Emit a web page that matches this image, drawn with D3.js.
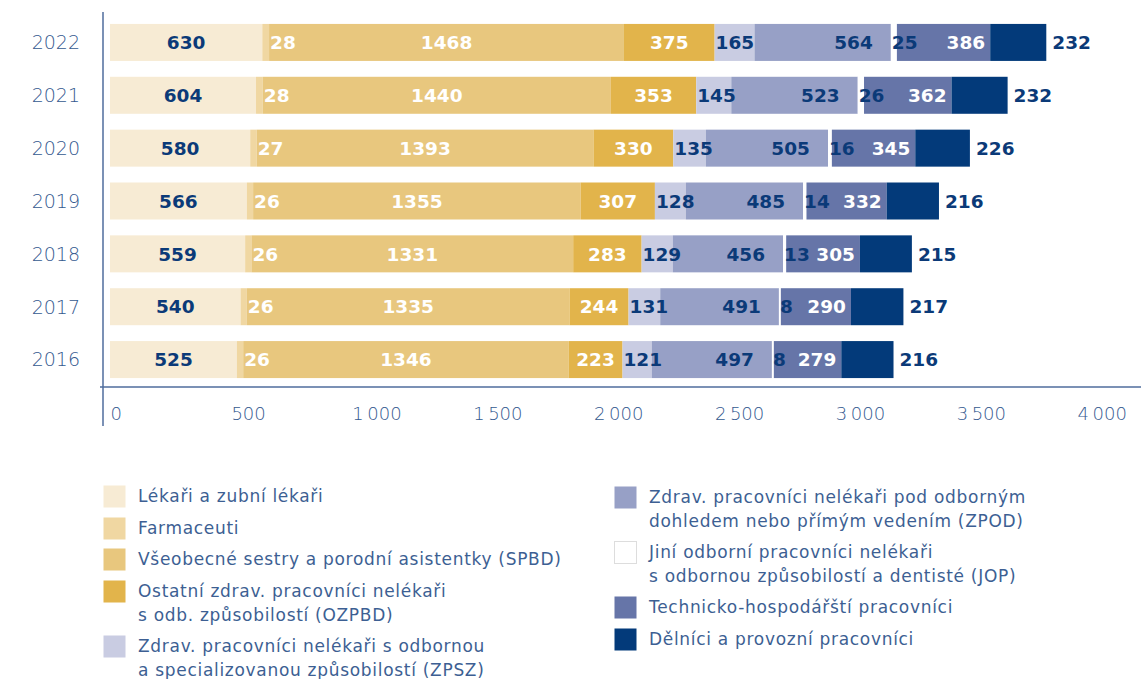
<!DOCTYPE html>
<html>
<head>
<meta charset="utf-8">
<script src="https://cdn.jsdelivr.net/npm/d3@7"></script>
<style>
  body { margin: 0; background: #fff; }
  svg { font-family: "DejaVu Sans", sans-serif; }
</style>
</head>
<body>
<div id="chart"></div>
<script>
// years from top to bottom
var years = ["2022", "2021", "2020", "2019", "2018", "2017", "2016"];

// one array per category, same order as years
var lekari      = [630, 604, 580, 566, 559, 540, 525];
var farmaceuti  = [28, 28, 27, 26, 26, 26, 26];
var spbd        = [1468, 1440, 1393, 1355, 1331, 1335, 1346];
var ozpbd       = [375, 353, 330, 307, 283, 244, 223];
var zpsz        = [165, 145, 135, 128, 129, 131, 121];
var zpod        = [564, 523, 505, 485, 456, 491, 497];
var jop         = [25, 26, 16, 14, 13, 8, 8];
var technicko   = [386, 362, 345, 332, 305, 290, 279];
var delnici     = [232, 232, 226, 216, 215, 217, 216];

var xTicks = [0, 500, 1000, 1500, 2000, 2500, 3000, 3500, 4000];

var seriesKeys = ["lek", "farm", "spbd", "ozpbd", "zpsz", "zpod", "jop", "th", "del"];
var seriesValues = [lekari, farmaceuti, spbd, ozpbd, zpsz, zpod, jop, technicko, delnici];

var legendNames = [
  ["Lékaři a zubní lékaři"],
  ["Farmaceuti"],
  ["Všeobecné sestry a porodní asistentky (SPBD)"],
  ["Ostatní zdrav. pracovníci nelékaři", "s odb. způsobilostí (OZPBD)"],
  ["Zdrav. pracovníci nelékaři s odbornou", "a specializovanou způsobilostí (ZPSZ)"],
  ["Zdrav. pracovníci nelékaři pod odborným", "dohledem nebo přímým vedením (ZPOD)"],
  ["Jiní odborní pracovníci nelékaři", "s odbornou způsobilostí a dentisté (JOP)"],
  ["Technicko-hospodářští pracovníci"],
  ["Dělníci a provozní pracovníci"]
];

var colors = ["#f7ebd4", "#f0d7a2", "#e8c77e", "#e2b44b", "#c9cce2", "#97a0c6", "#ffffff", "#6675a8", "#033a7a"];
// label colour for each series
var labelColors = ["#0b3a78", "#ffffff", "#ffffff", "#ffffff", "#0b3a78", "#0b3a78", "#0b3a78", "#ffffff", "#0b3a78"];

var textBlue = "#34598f";
var axisBlue = "#4f6c9c";

var svgWidth = 1141, svgHeight = 679;

var svg = d3.select("#chart").append("svg")
  .attr("width", svgWidth)
  .attr("height", svgHeight);

// build rows for stacking
var rows = years.map(function(y, i) {
  var r = { year: y };
  seriesKeys.forEach(function(k, j) { r[k] = seriesValues[j][i]; });
  return r;
});

var stacked = d3.stack().keys(seriesKeys)(rows);

var x = d3.scaleLinear().domain([0, 4000]).range([110, 1077]);
var y = d3.scaleBand().domain(years).range([16, 386]).paddingInner(0.3).paddingOuter(0.15);

// bars
var layer = svg.selectAll("g.layer")
  .data(stacked)
  .enter().append("g")
  .attr("class", "layer")
  .attr("fill", function(d, i) { return colors[i]; });

layer.selectAll("rect")
  .data(function(d) { return d; })
  .enter().append("rect")
  .attr("x", function(d) { return x(d[0]); })
  .attr("y", function(d) { return y(d.data.year); })
  .attr("width", function(d) { return x(d[1]) - x(d[0]); })
  .attr("height", y.bandwidth());

// value labels
stacked.forEach(function(s, i) {
  svg.append("g").selectAll("text")
    .data(s)
    .enter().append("text")
    .attr("y", function(d) { return y(d.data.year) + y.bandwidth() / 2; })
    .attr("dy", "0.36em")
    .attr("font-size", 18.5)
    .attr("font-weight", 700)
    .attr("fill", labelColors[i])
    .each(function(d) {
      var t = d3.select(this);
      var key = s.key;
      var x0 = x(d[0]), x1 = x(d[1]);
      if (key === "farm" || key === "zpsz" || key === "jop") {
        // small segments: label starts at the segment
        t.attr("x", key === "farm" ? x1 + 1 : x0 + 1).attr("text-anchor", "start");
      } else if (key === "del") {
        t.attr("x", x1 + 6).attr("text-anchor", "start");
      } else if (key === "zpod") {
        t.attr("x", x1 - 18).attr("text-anchor", "end");
      } else if (key === "th") {
        t.attr("x", x1 - 5).attr("text-anchor", "end");
      } else {
        t.attr("x", (x0 + x1) / 2).attr("text-anchor", "middle");
      }
      t.text(d.data[key]);
    });
});

// year labels
svg.append("g").selectAll("text")
  .data(years)
  .enter().append("text")
  .attr("x", 80)
  .attr("y", function(d) { return y(d) + y.bandwidth() / 2; })
  .attr("dy", "0.36em")
  .attr("text-anchor", "end")
  .attr("font-size", 19)
  .attr("font-weight", 200)
  .attr("fill", textBlue)
  .text(function(d) { return d; });

// axis lines
svg.append("line")
  .attr("x1", 103).attr("x2", 103).attr("y1", 12).attr("y2", 426)
  .attr("stroke", axisBlue).attr("stroke-width", 1.5);
svg.append("line")
  .attr("x1", 100).attr("x2", svgWidth).attr("y1", 387).attr("y2", 387)
  .attr("stroke", axisBlue).attr("stroke-width", 1.5);

// x tick labels
var fmt = d3.formatLocale({ decimal: ",", thousands: "\u2009", grouping: [3], currency: ["", ""] }).format(",");
var xAxis = svg.append("g")
  .attr("transform", "translate(0,404)")
  .call(d3.axisBottom(x).tickValues(xTicks).tickSize(0).tickFormat(fmt));
xAxis.select(".domain").remove();
xAxis.selectAll("text")
  .attr("text-anchor", "start")
  .attr("font-family", "\"DejaVu Sans\", sans-serif")
  .attr("font-size", 18)
  .attr("font-weight", 200)
  .attr("fill", textBlue);

// legend
var legendPos = [
  { x: 103, y: 485 }, { x: 103, y: 517 }, { x: 103, y: 548 }, { x: 103, y: 580 }, { x: 103, y: 635 },
  { x: 614, y: 486 }, { x: 614, y: 541 }, { x: 614, y: 596 }, { x: 614, y: 628 }
];

var legend = svg.append("g").selectAll("g")
  .data(legendNames)
  .enter().append("g")
  .attr("transform", function(d, i) { return "translate(" + legendPos[i].x + "," + legendPos[i].y + ")"; });

legend.append("rect")
  .attr("x", 0.5).attr("y", 0.5)
  .attr("width", 22).attr("height", 22)
  .attr("fill", function(d, i) { return colors[i]; })
  .attr("stroke", function(d, i) { return seriesKeys[i] === "jop" ? "#dddddd" : "none"; });

legend.each(function(lines) {
  var g = d3.select(this);
  lines.forEach(function(line, k) {
    g.append("text")
      .attr("x", 35)
      .attr("y", 11 + k * 24)
      .attr("dy", "0.36em")
      .attr("font-size", 17)
      .attr("letter-spacing", 0.7)
      .attr("fill", "#3d5f93")
      .text(line);
  });
});
</script>
</body>
</html>
